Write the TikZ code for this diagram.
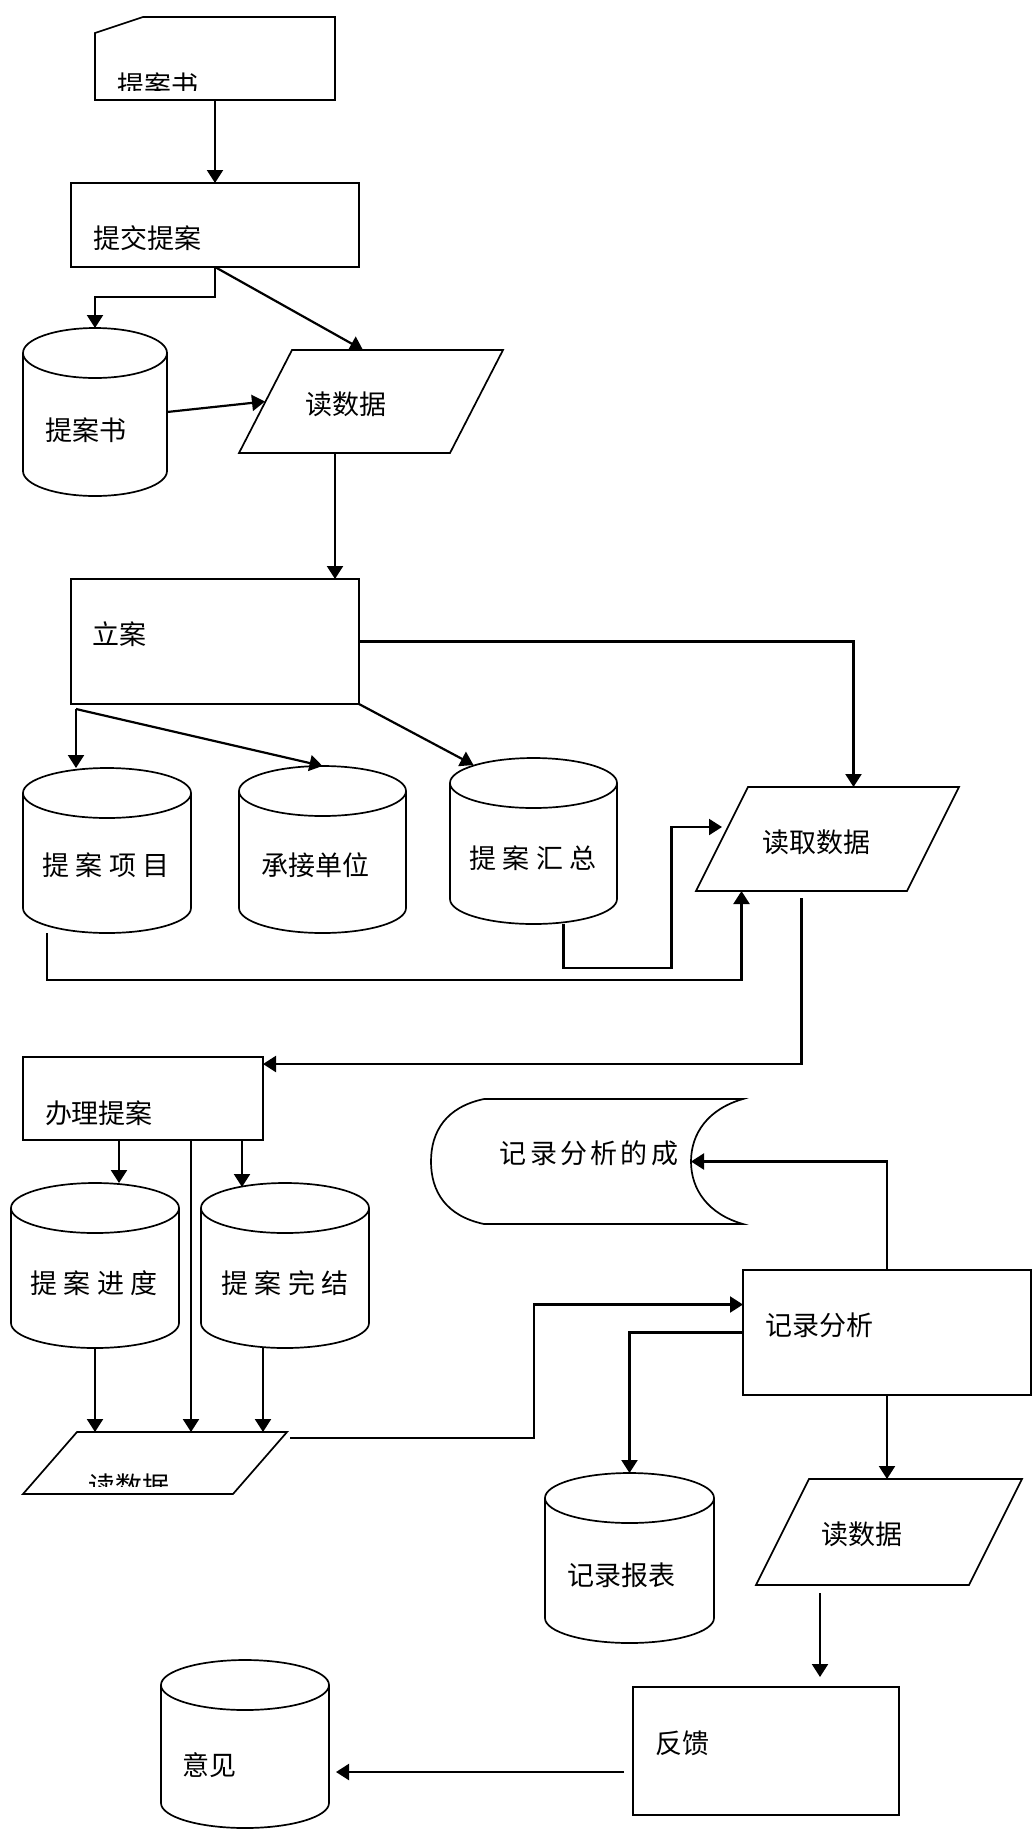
\documentclass[tikz,border=0pt]{standalone}
\usepackage{fontspec}
\setmainfont{Noto Sans CJK SC}
\usepackage{tikz}
\usetikzlibrary{arrows.meta}

\begin{document}
\begin{tikzpicture}[x=1pt,y=-1pt,
  every node/.style={inner sep=0pt, outer sep=0pt},
  lbl/.style={font=\fontsize{27pt}{30pt}\selectfont},
  box/.style={draw, line width=1.7pt, rectangle},
  outl/.style={line width=1.7pt},
  arr/.style={line width=2.2pt, -{Triangle[length=13pt,width=16pt]}}
]
\useasboundingbox (0,0) rectangle (1033,1832);

\node[minimum width=240pt, minimum height=83pt] (card) at (215,58.5) {};
\draw[outl] (card.south west) -- ([yshift=-16pt]card.north west) -- ([xshift=48pt]card.north west) -- (card.north east) -- (card.south east) -- cycle;
\begin{scope}
  \clip (card.north west) rectangle ([yshift=10pt]card.south east);
  \node[lbl, anchor=west] (card-t) at (117,85) {提案书};
\end{scope}

\node[box, minimum width=288pt, minimum height=84pt] (tijiao) at (215,225) {};
\node[lbl, anchor=west] (tijiao-t) at (93,238) {提交提案};
\node[minimum width=144pt, minimum height=168pt] (shuA) at (95,412) {};
\node[lbl] (shuA-t) at (86,430) {提案书};
\node[minimum width=264pt, minimum height=103pt] (dusj1) at (371,401.5) {};
\node[lbl] (dusj1-t) at (346,404) {读数据};

\node[box, minimum width=288pt, minimum height=125pt] (lian) at (215,641.5) {};
\node[lbl, anchor=west] (lian-t) at (92,634) {立案};
\node[minimum width=168pt, minimum height=165pt] (xiangmu) at (107,850.5) {};
\node[lbl] (xiangmu-t) at (106,865) {提 案 项 目};
\node[minimum width=167pt, minimum height=167pt] (danwei) at (322.5,849.5) {};
\node[lbl] (danwei-t) at (315,865) {承接单位};
\node[minimum width=167pt, minimum height=166pt] (huizong) at (533.5,841) {};
\node[lbl] (huizong-t) at (533,858) {提 案 汇 总};
\node[minimum width=263pt, minimum height=104pt] (duqu) at (827.5,839) {};
\node[lbl] (duqu-t) at (816,842) {读取数据};

\node[box, minimum width=240pt, minimum height=83pt] (banli) at (143,1098.5) {};
\node[lbl, anchor=west] (banli-t) at (45,1113) {办理提案};
\node[minimum width=168pt, minimum height=165pt] (jindu) at (95,1265.5) {};
\node[lbl] (jindu-t) at (94,1283) {提 案 进 度};
\node[minimum width=168pt, minimum height=165pt] (wanjie) at (285,1265.5) {};
\node[lbl] (wanjie-t) at (285,1283) {提 案 完 结};
\node[minimum width=264pt, minimum height=62pt] (dusj2) at (155,1463) {};
\begin{scope}
  \clip (dusj2.north west) rectangle ([yshift=8pt]dusj2.south east);
  \node[lbl, anchor=west] (dusj2-t) at (88,1486) {读数据};
\end{scope}

\node[minimum width=312pt, minimum height=125pt] (chengguo) at (587,1161.5) {};
\coordinate (cg-in) at ([xshift=-52pt]chengguo.east);
\draw[outl] ([xshift=53pt]chengguo.north west) -- (chengguo.north east)
  .. controls +(-35,10) and +(0,-28) .. (cg-in)
  .. controls +(0,28) and +(-35,-10) .. (chengguo.south east)
  -- ([xshift=53pt]chengguo.south west)
  .. controls +(-38,-8) and +(0,30) .. (chengguo.west)
  .. controls +(0,-30) and +(-38,8) .. ([xshift=53pt]chengguo.north west) -- cycle;
\node[lbl] (chengguo-t) at (589,1153) {\addfontfeature{LetterSpace=12}记录分析的成};

\node[box, minimum width=288pt, minimum height=125pt] (fenxi) at (887,1332.5) {};
\node[lbl, anchor=west] (fenxi-t) at (765,1325) {记录分析};
\node[minimum width=169pt, minimum height=170pt] (baobiao) at (629.5,1558) {};
\node[lbl] (baobiao-t) at (621,1575) {记录报表};
\node[minimum width=266pt, minimum height=106pt] (dusj3) at (889,1532) {};
\node[lbl] (dusj3-t) at (862,1534) {读数据};
\node[box, minimum width=266pt, minimum height=128pt] (fankui) at (766,1751) {};
\node[lbl, anchor=west] (fankui-t) at (655,1743) {反馈};
\node[minimum width=168pt, minimum height=168pt] (yijian) at (245,1744) {};
\node[lbl] (yijian-t) at (209,1765) {意见};

% cylinders
\foreach \c/\r in {shuA/72, xiangmu/84, danwei/83.5, huizong/83.5, jindu/84, wanjie/84, baobiao/84.5, yijian/84} {
  \draw[outl] ([yshift=-25pt]\c.north west) -- ([yshift=25pt]\c.south west)
    arc[start angle=180, end angle=360, x radius=\r pt, y radius=25pt] -- ([yshift=-25pt]\c.north east);
  \draw[outl] ([yshift=-25pt]\c.north) ellipse [x radius=\r pt, y radius=25pt];
}
% parallelograms
\foreach \p/\s in {dusj1/53, duqu/52, dusj2/54, dusj3/53}
  \draw[outl] (\p.south west) -- ([xshift=\s pt]\p.north west) -- (\p.north east) -- ([xshift=-\s pt]\p.south east) -- cycle;

\coordinate (d1-in) at ([xshift=26pt]dusj1.west);
\coordinate (d1-out) at ([xshift=-36pt]dusj1.south);
\coordinate (lian-out) at ([xshift=5pt,yshift=-5pt]lian.south west);
\coordinate (dq-out) at ([xshift=-26pt,yshift=-7pt]duqu.south);
\coordinate (jd-in) at ([xshift=24pt]jindu.north);
\coordinate (wj-in) at ([xshift=-43pt]wanjie.north);
\coordinate (d2-in) at ([xshift=36pt]dusj2.north);
\coordinate (wj-out) at ([xshift=-22pt]wanjie.south);
\coordinate (d2-out) at ([xshift=3pt,yshift=-6pt]dusj2.north east);
\coordinate (d3-out) at ([xshift=-69pt,yshift=-8pt]dusj3.south);
\coordinate (fk-in) at ([yshift=10pt]fankui.north);
\coordinate (fk-out) at ([xshift=-9pt,yshift=-21pt]fankui.west);

\path[arr]
  (card.south) edge (tijiao.north)
  (tijiao.south) edge ([xshift=-8pt]dusj1.north)
  (shuA.east) edge (d1-in)
  (d1-out) edge (d1-out |- lian.north)
  (lian-out) edge (lian-out |- xiangmu.north)
  (lian-out) edge (danwei.north)
  (lian.south east) edge ([xshift=-60pt,yshift=-7pt]huizong.north)
  (jd-in |- banli.south) edge (jd-in)
  (wj-in |- banli.south) edge ([yshift=-4pt]wj-in)
  (d2-in |- banli.south) edge (d2-in)
  (jindu.south) edge (jindu.south |- dusj2.north)
  (wj-out) edge (wj-out |- dusj2.north)
  (fenxi.south) edge (fenxi.south |- dusj3.north)
  (d3-out) edge (d3-out |- fk-in)
  (fk-out) edge ([xshift=7pt]fk-out -| yijian.east);

\draw[arr] (tijiao.south) -- ++(0,30) -| (shuA.north);
\draw[arr] (lian.east) -| ([xshift=26pt]duqu.north);
\draw[arr] ([xshift=-60pt]xiangmu.south) -- ++(0,47) -| ([xshift=-86pt]duqu.south);
\draw[arr] ([xshift=30pt]huizong.south) -- ++(0,44) -- ++(108,0) |- ([xshift=26pt,yshift=12pt]duqu.west);
\draw[arr] (dq-out) |- ([yshift=-7pt]banli.north east);
\draw[arr] (d2-out) -- ++(244,0) |- ([yshift=28pt]fenxi.west);
\draw[arr] (fenxi.west) -| (baobiao.north);
\draw[arr] (fenxi.north) |- (cg-in);
\end{tikzpicture}
\end{document}
